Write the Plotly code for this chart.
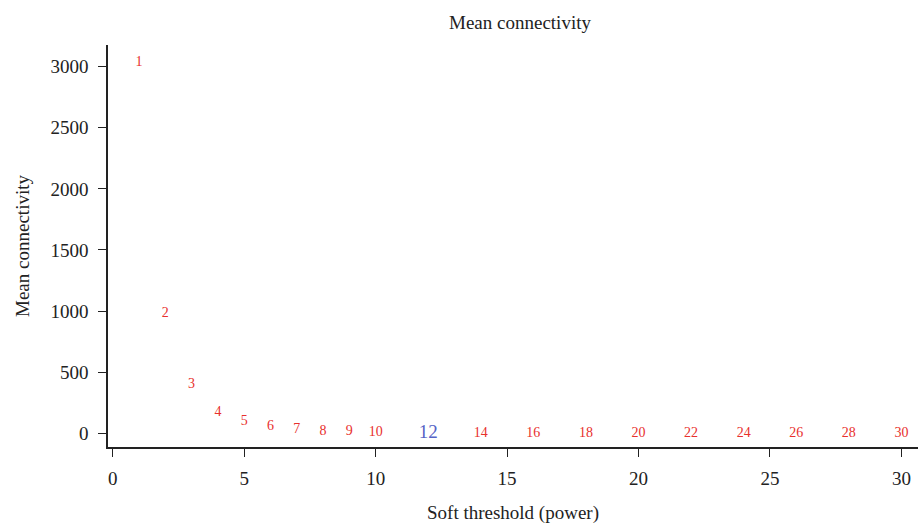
import plotly.graph_objects as go

powers = [1, 2, 3, 4, 5, 6, 7, 8, 9, 10, 12, 14, 16, 18, 20, 22, 24, 26, 28, 30]
mean_k = [3030, 980, 400, 172, 95, 54, 33, 16, 11, 7, 3, 2, 1, 1, 1, 1, 1, 1, 1, 1]
selected_power = 12

red = "#e8302d"
blue = "#5563c6"
serif = "Liberation Serif, Times New Roman, serif"

fig = go.Figure()

ox = [p for p in powers if p != selected_power]
oy = [k for p, k in zip(powers, mean_k) if p != selected_power]
fig.add_trace(go.Scatter(
    x=ox, y=oy, mode="text", text=[str(p) for p in ox],
    textposition="middle center",
    textfont=dict(family=serif, size=14, color=red),
    showlegend=False, hoverinfo="x+y",
))
sy = [k for p, k in zip(powers, mean_k) if p == selected_power]
fig.add_trace(go.Scatter(
    x=[selected_power], y=sy, mode="text", text=[str(selected_power)],
    textposition="middle center",
    textfont=dict(family=serif, size=19, color=blue),
    showlegend=False, hoverinfo="x+y",
))

fig.update_layout(
    width=918, height=527,
    margin=dict(l=108, r=0, t=45, b=80),
    paper_bgcolor="white", plot_bgcolor="white",
    font=dict(family=serif, size=18, color="#222222"),
    title=dict(text="Mean connectivity", x=520 / 918, xanchor="center",
               y=1 - 22 / 527, yanchor="middle",
               font=dict(family=serif, size=19, color="#222222")),
)
fig.update_xaxes(
    range=[-0.18, 30.63],
    tickmode="array", tickvals=[0, 5, 10, 15, 20, 25, 30],
    ticks="outside", ticklen=8, tickwidth=1.3, tickcolor="#222222",
    showline=True, linecolor="#222222", linewidth=1.6,
    showgrid=False, zeroline=False, mirror=False,
    ticklabelstandoff=5,
    title=dict(text="Soft threshold (power)", standoff=18,
               font=dict(family=serif, size=19)),
    tickfont=dict(family=serif, size=19),
)
fig.update_yaxes(
    range=[-112, 3177],
    tickmode="array", tickvals=[0, 500, 1000, 1500, 2000, 2500, 3000],
    ticks="outside", ticklen=8, tickwidth=1.3, tickcolor="#222222",
    showline=True, linecolor="#222222", linewidth=1.6,
    showgrid=False, zeroline=False, mirror=False,
    ticklabelstandoff=6,
    title=dict(text="Mean connectivity", standoff=16,
               font=dict(family=serif, size=19)),
    tickfont=dict(family=serif, size=19),
)

fig.write_html("out.html")
